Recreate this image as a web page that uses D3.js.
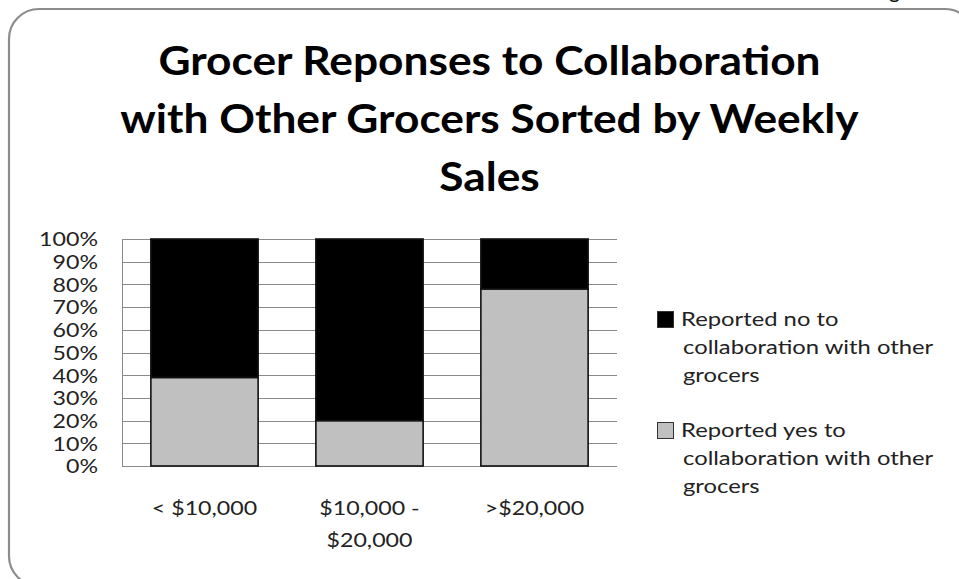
<!DOCTYPE html>
<html>
<head>
<meta charset="utf-8">
<script src="https://cdn.jsdelivr.net/npm/d3@7"></script>
<style>
  html, body { margin: 0; padding: 0; background: #fff; }
  svg { display: block; }
  text { font-family: Lato, "Open Sans", sans-serif; }
</style>
</head>
<body>
<svg id="chart" width="959" height="579"></svg>
<script>
// Weekly sales brackets and share of grocers answering yes / no (percent)
const categories = ["< $10,000", "$10,000 - $20,000", ">$20,000"];
const categoryLines = [["< $10,000"], ["$10,000 -", "$20,000"], [">$20,000"]];
const yesValues = [39, 20, 78];
const noValues = [61, 80, 22];
const seriesNames = ["Reported no to collaboration with other grocers",
                     "Reported yes to collaboration with other grocers"];
const legendLines = [["Reported no to", "collaboration with other", "grocers"],
                     ["Reported yes to", "collaboration with other", "grocers"]];
const yTicks = [0, 10, 20, 30, 40, 50, 60, 70, 80, 90, 100];
const titleLines = ["Grocer Reponses to Collaboration",
                    "with Other Grocers Sorted by Weekly",
                    "Sales"];

const HSTRETCH = 1.22;   // body text is drawn slightly wide
function widen(sel, k = HSTRETCH) {
  sel.each(function () {
    const w = this.getComputedTextLength();
    d3.select(this).attr("textLength", w * k).attr("lengthAdjust", "spacingAndGlyphs");
  });
}

const svg = d3.select("#chart");

// outer rounded frame
svg.append("rect")
  .attr("x", 9).attr("y", 9)
  .attr("width", 966).attr("height", 577)
  .attr("rx", 30).attr("ry", 30)
  .attr("fill", "#fff")
  .attr("stroke", "#8c8c8c").attr("stroke-width", 2.2);

// clipped text from the slide above
svg.append("text").attr("x", 889).attr("y", -2.5)
  .attr("font-size", 21).attr("fill", "#111").text("g");

// title, each line widened around its centre
svg.append("g").selectAll("text").data(titleLines).join("text")
  .attr("x", 489.5)
  .attr("y", (d, i) => 75 + i * 58)
  .attr("text-anchor", "middle")
  .attr("font-size", 39.5)
  .attr("font-weight", 700)
  .attr("fill", "#000")
  .text(d => d)
  .call(widen, 1.12);

// scales
const plot = { left: 122, right: 617, top: 239, bottom: 466 };
const x = d3.scaleBand()
  .domain(categories)
  .range([plot.left, plot.right])
  .paddingInner(0.35)
  .paddingOuter(0.175);
const y = d3.scaleLinear().domain([0, 100]).range([plot.bottom, plot.top]);

// gridlines
svg.append("g")
  .selectAll("line").data(yTicks).join("line")
  .attr("x1", plot.left).attr("x2", plot.right)
  .attr("y1", d => Math.round(y(d)) + 0.5).attr("y2", d => Math.round(y(d)) + 0.5)
  .attr("stroke", "#8a8a8a").attr("stroke-width", 1);
svg.append("line")
  .attr("x1", plot.left + 0.5).attr("x2", plot.left + 0.5)
  .attr("y1", y(100)).attr("y2", y(0))
  .attr("stroke", "#8a8a8a").attr("stroke-width", 1);

// y axis labels
const yAxis = svg.append("g")
  .attr("transform", `translate(${plot.left},0)`)
  .call(d3.axisLeft(y).tickValues(yTicks).tickFormat(d => d + "%").tickSize(0).tickPadding(24));
yAxis.select(".domain").remove();
yAxis.selectAll("text")
  .attr("font-family", "Lato, sans-serif")
  .attr("font-size", 19)
  .attr("fill", "#222")
  .attr("dy", "0.36em")
  .call(widen);

// stacked bars
const rows = categories.map((c, i) => ({ cat: c, yes: yesValues[i], no: noValues[i] }));
const stack = d3.stack().keys(["yes", "no"])(rows);
const fills = { yes: "#c0c0c0", no: "#000000" };
svg.append("g")
  .selectAll("g").data(stack).join("g")
  .attr("fill", d => fills[d.key])
  .selectAll("rect").data(d => d).join("rect")
  .attr("x", d => x(d.data.cat))
  .attr("width", x.bandwidth())
  .attr("y", d => y(d[1]))
  .attr("height", d => y(d[0]) - y(d[1]))
  .attr("stroke", "#111").attr("stroke-width", 1.6);

// x axis labels
const xLab = svg.append("g");
categoryLines.forEach((lines, i) => {
  xLab.append("text")
    .attr("x", x(categories[i]) + x.bandwidth() / 2)
    .attr("y", 515)
    .attr("text-anchor", "middle")
    .attr("font-size", 19)
    .attr("fill", "#222")
    .selectAll("tspan").data(lines).join("tspan")
    .attr("x", x(categories[i]) + x.bandwidth() / 2)
    .attr("dy", (d, j) => j === 0 ? 0 : 32)
    .text(d => d);
});
xLab.selectAll("tspan").call(widen);

// legend
const legend = svg.append("g");
const legendFills = ["#000000", "#c0c0c0"];
seriesNames.forEach((name, i) => {
  const top = 311 + i * 111;
  legend.append("rect")
    .attr("x", 657.5).attr("y", top + 0.5)
    .attr("width", 16).attr("height", 16)
    .attr("fill", legendFills[i])
    .attr("stroke", "#333").attr("stroke-width", 1);
  legend.append("text")
    .attr("font-size", 19.5)
    .attr("fill", "#222")
    .selectAll("tspan").data(legendLines[i]).join("tspan")
    .attr("x", (d, j) => j === 0 ? 681 : 683)
    .attr("y", (d, j) => top + 15 + j * 28)
    .text(d => d);
});
legend.selectAll("tspan").call(widen);
</script>
</body>
</html>
